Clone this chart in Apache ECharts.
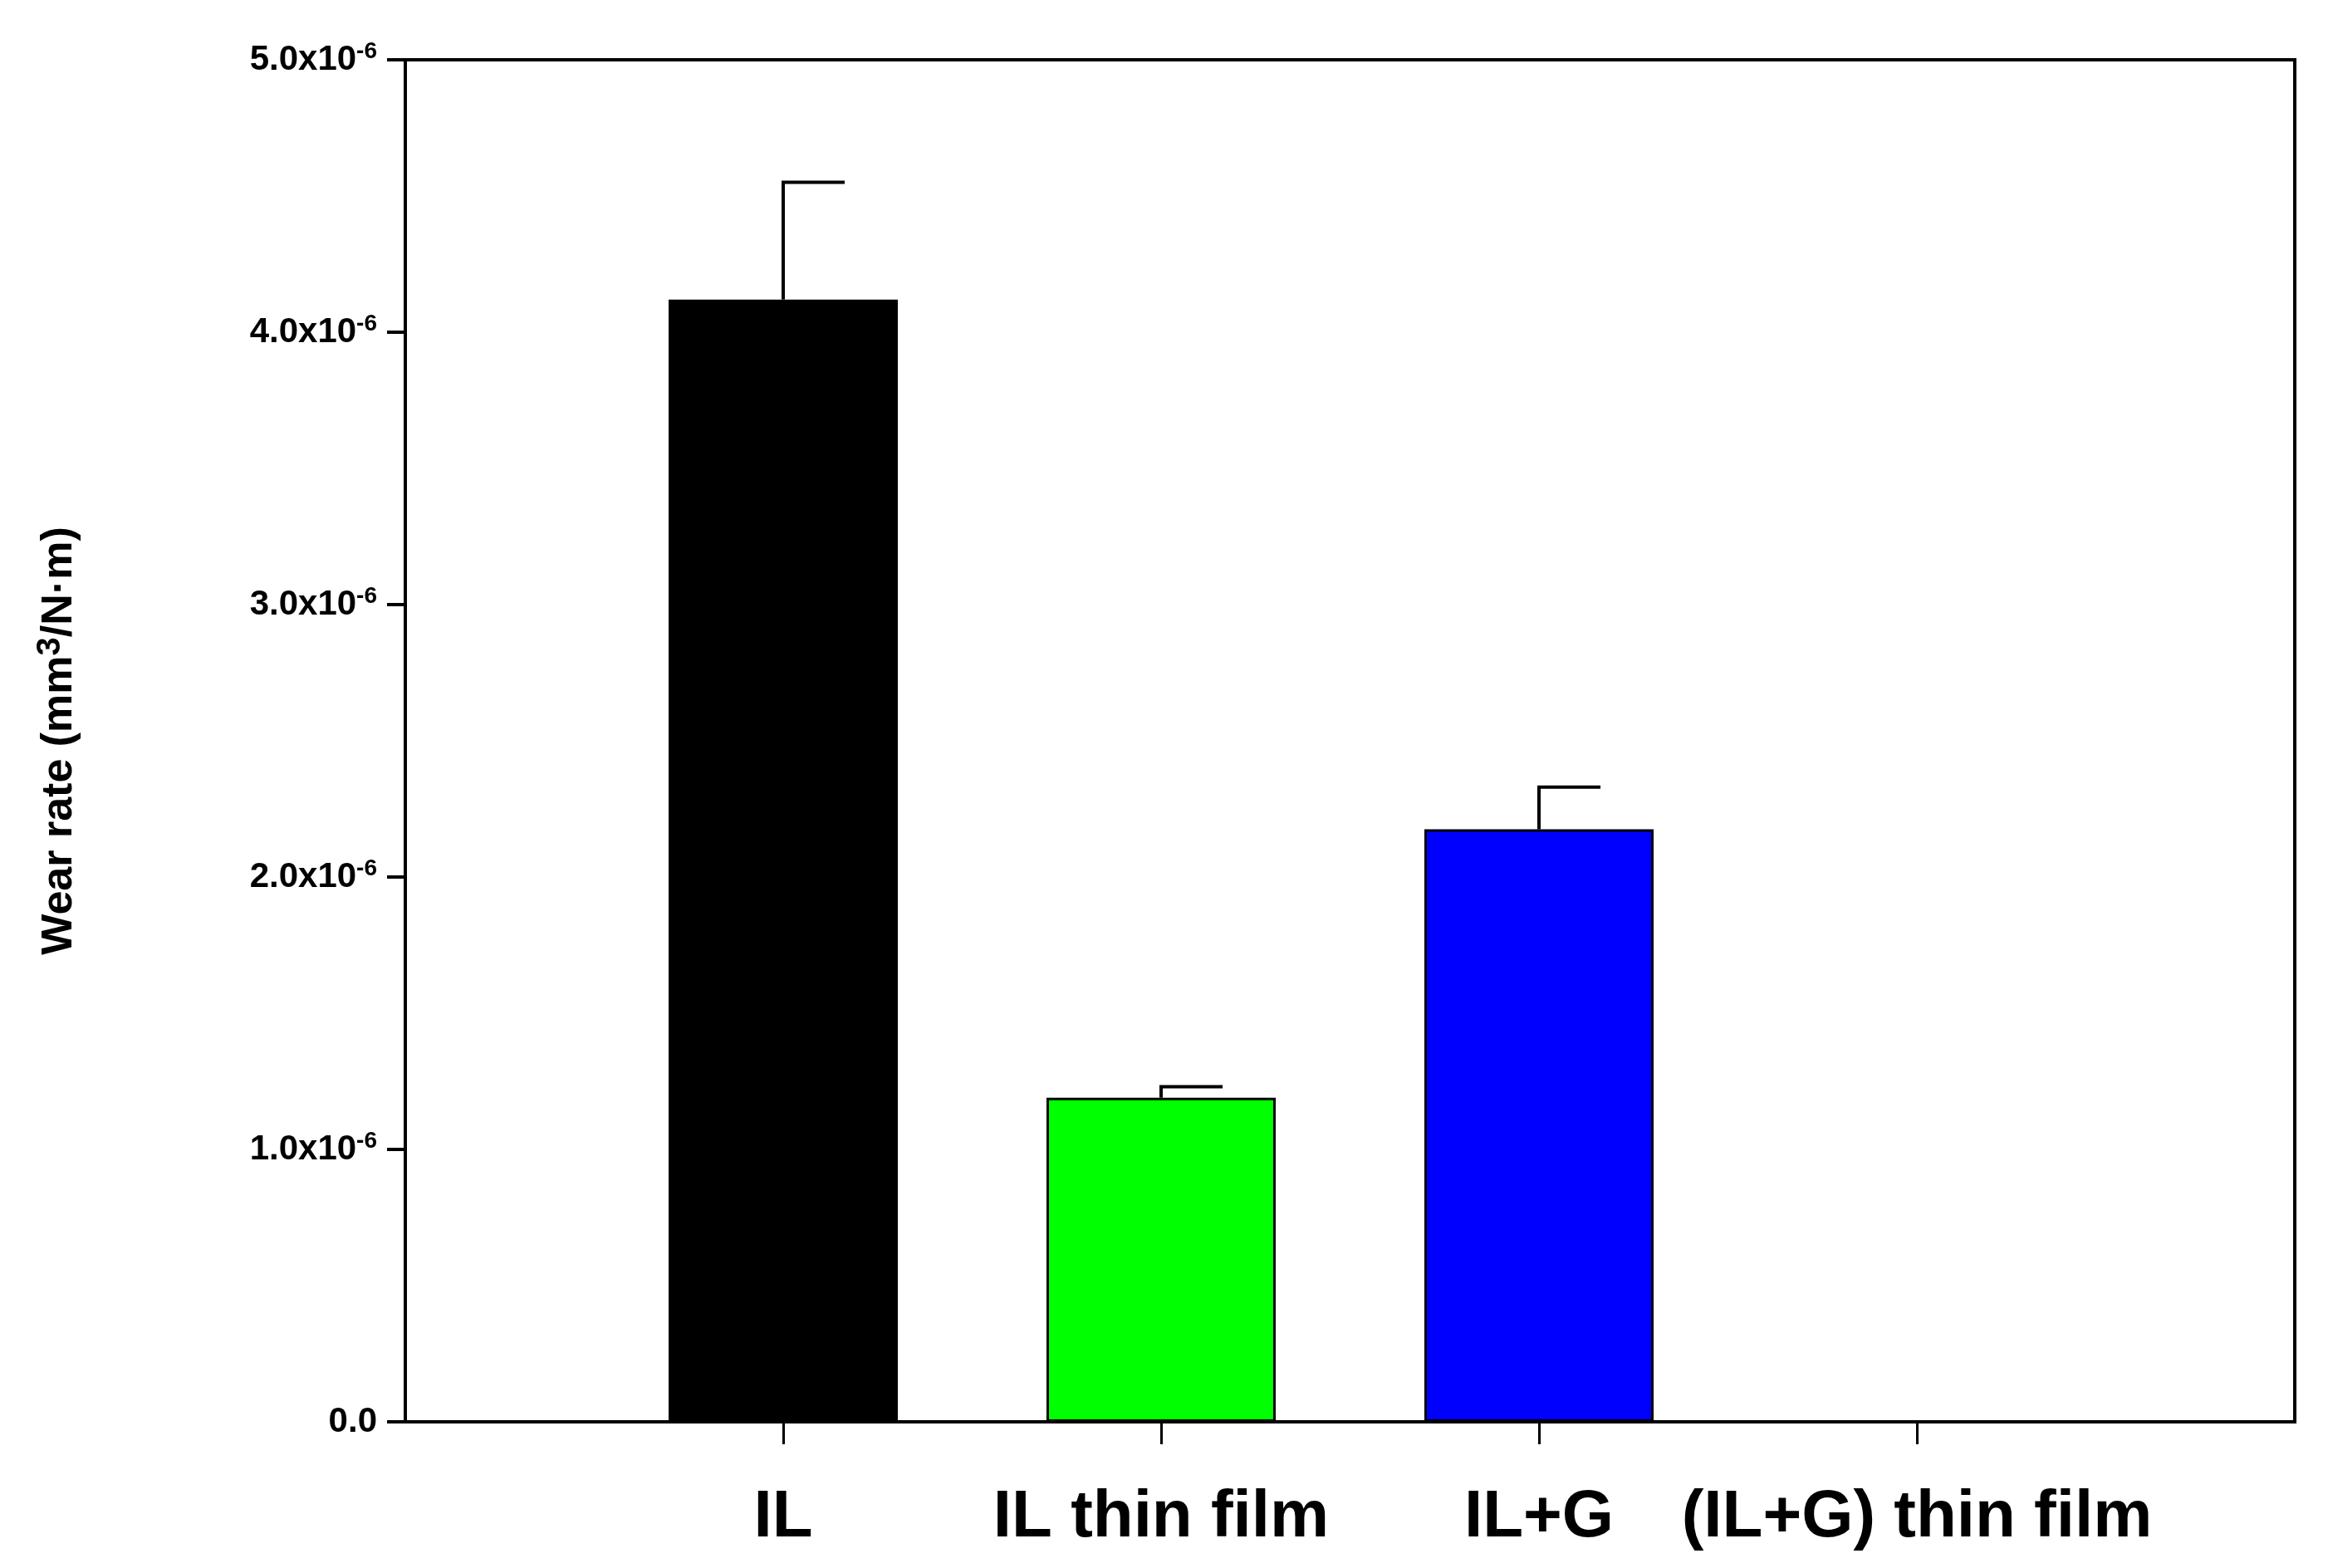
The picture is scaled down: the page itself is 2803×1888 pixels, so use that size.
<!DOCTYPE html>
<html><head><meta charset="utf-8">
<script src="https://cdn.jsdelivr.net/npm/echarts@6/dist/echarts.min.js"></script>
<style>html,body{margin:0;padding:0;background:#fff}#c{width:2803px;height:1888px}</style>
</head><body><div id="c"></div>
<script>
var categories = ['IL', 'IL thin film', 'IL+G', '(IL+G) thin film'];
var positions = [1, 2, 3, 4];
var values = [4.12e-6, 1.19e-6, 2.175e-6, 0];
var errors = [0.43e-6, 0.04e-6, 0.155e-6, 0];
var colors = ['#000000', '#00ff00', '#0000ff', '#ffffff'];
var yTicks = {0: '0.0', 1: '1.0', 2: '2.0', 3: '3.0', 4: '4.0', 5: '5.0'};

var F = '"Liberation Sans", Arial, sans-serif';
var chart = echarts.init(document.getElementById('c'));
chart.setOption({
  backgroundColor: '#fff',
  animation: false,
  grid: {left: 488, right: 40, top: 72, bottom: 176, show: true, borderColor: '#000', borderWidth: 4},
  xAxis: {
    type: 'value', min: 0, max: 5, interval: 1,
    axisLine: {lineStyle: {color: '#000', width: 4}},
    axisTick: {inside: false, length: 27, lineStyle: {color: '#000', width: 3},
      customValues: positions},
    splitLine: {show: false},
    axisLabel: {
      customValues: positions,
      margin: 76, color: '#000', fontFamily: F, fontWeight: 'bold', fontSize: 80,
      formatter: function (v) { var i = positions.indexOf(v); return i >= 0 ? categories[i] : ''; }
    }
  },
  yAxis: {
    type: 'value', min: 0, max: 5e-6, interval: 1e-6,
    name: '{a|Wear rate (mm}{s|3}{a|/N·m)}',
    nameLocation: 'middle', nameGap: 385, nameRotate: 90,
    nameTextStyle: {rich: {
      a: {fontFamily: F, fontWeight: 'bold', fontSize: 52, color: '#000'},
      s: {fontFamily: F, fontWeight: 'bold', fontSize: 40, color: '#000', verticalAlign: 'top', padding: [0, 0, 22, 0]}
    }},
    axisLine: {show: true, lineStyle: {color: '#000', width: 4}},
    axisTick: {show: true, inside: false, length: 22, lineStyle: {color: '#000', width: 4}},
    splitLine: {show: false},
    axisLabel: {
      margin: 34, color: '#000',
      formatter: function (v) {
        var k = Math.round(v * 1e6);
        return k === 0 ? '{b|0.0}' : '{b|' + yTicks[k] + 'x10}{s|-6}';
      },
      rich: {
        b: {fontFamily: F, fontWeight: 'bold', fontSize: 42, color: '#000'},
        s: {fontFamily: F, fontWeight: 'bold', fontSize: 28, color: '#000', verticalAlign: 'top', padding: [0, 0, 20, 0]}
      }
    }
  },
  series: [
    {
      type: 'bar', barWidth: 276,
      data: positions.map(function (p, i) {
        return {value: [p, values[i]], itemStyle: {color: colors[i], borderColor: '#000', borderWidth: values[i] ? 3 : 0}};
      }),
      z: 2
    },
    {
      type: 'custom', z: 3,
      data: positions.map(function (p, i) { return [p, values[i], values[i] + errors[i]]; }),
      renderItem: function (params, api) {
        if (api.value(2) === api.value(1)) return null;
        var a = api.coord([api.value(0), api.value(1)]);
        var b = api.coord([api.value(0), api.value(2)]);
        var st = {stroke: '#000', lineWidth: 4};
        return {type: 'group', children: [
          {type: 'line', shape: {x1: a[0], y1: a[1], x2: b[0], y2: b[1]}, style: st},
          {type: 'line', shape: {x1: b[0] - 2, y1: b[1], x2: b[0] + 74, y2: b[1]}, style: st}
        ]};
      }
    }
  ]
});
</script></body></html>
